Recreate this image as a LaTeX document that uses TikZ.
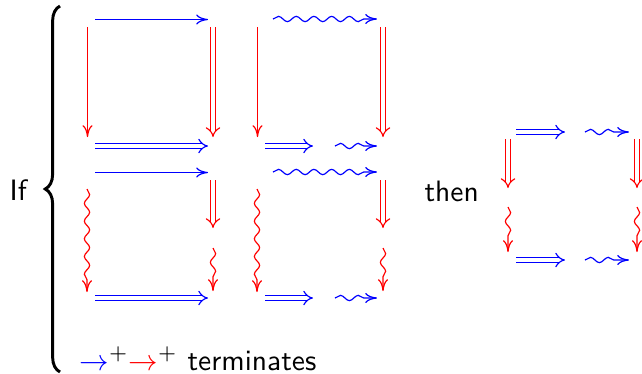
\documentclass[tikz,border=0pt]{standalone}
\usetikzlibrary{arrows.meta,decorations.pathmorphing,decorations.pathreplacing}
\begin{document}
\begin{tikzpicture}[x=0.339pt,y=-0.339pt,font=\sffamily,
  blu/.style={draw=blue,line width=0.4pt},
  rd/.style={draw=red,line width=0.4pt},
  sgl/.style={-{To[length=4pt,width=3.4pt]}},
  dbl/.style={double,double distance=1.3pt,-{Implies[length=3.6pt,width=4.2pt]}},
  squig/.style={-{To[length=4pt,width=3.4pt]},decorate,decoration={snake,amplitude=0.9pt,segment length=6pt,post length=4pt}},
  lbl/.style={inner sep=0pt,anchor=base west}]
\useasboundingbox (0,0) rectangle (642,373);
% brace
\coordinate (bb) at (60,372);
\coordinate (bt) at (60,6);
\draw[line width=1pt,decorate,decoration={brace,amplitude=5pt}] (bb) -- (bt);
\node[lbl] (if) at (9,200) {If};
\node[lbl] (then) at (424,201) {then};
% square A
\coordinate (a1s) at (95,19.5);  \coordinate (a1e) at (208,19.5);
\coordinate (a2s) at (87.5,27);  \coordinate (a2e) at (87.5,137);
\coordinate (a3s) at (213,27); \coordinate (a3e) at (213,137);
\coordinate (a4s) at (95,146); \coordinate (a4e) at (208,146);
\draw[blu,sgl] (a1s) -- (a1e);
\draw[rd,sgl] (a2s) -- (a2e);
\draw[rd,dbl] (a3s) -- (a3e);
\draw[blu,dbl] (a4s) -- (a4e);
% square B
\coordinate (b1s) at (273,19);  \coordinate (b1e) at (377,19);
\coordinate (b2s) at (257.5,27);  \coordinate (b2e) at (257.5,137);
\coordinate (b3s) at (383,27);  \coordinate (b3e) at (383,137);
\coordinate (b4s) at (265,146); \coordinate (b4e) at (313,146);
\coordinate (b5s) at (335,146); \coordinate (b5e) at (377,146);
\draw[blu,squig] (b1s) -- (b1e);
\draw[rd,sgl] (b2s) -- (b2e);
\draw[rd,dbl] (b3s) -- (b3e);
\draw[blu,dbl] (b4s) -- (b4e);
\draw[blu,squig] (b5s) -- (b5e);
% square C
\coordinate (c1s) at (95,172.5);  \coordinate (c1e) at (208,172.5);
\coordinate (c2s) at (87,189);  \coordinate (c2e) at (87,292);
\coordinate (c3s) at (213,180); \coordinate (c3e) at (213,228);
\coordinate (c4s) at (213,248); \coordinate (c4e) at (213,291);
\coordinate (c5s) at (95,298);  \coordinate (c5e) at (208,298);
\draw[blu,sgl] (c1s) -- (c1e);
\draw[rd,squig] (c2s) -- (c2e);
\draw[rd,dbl] (c3s) -- (c3e);
\draw[rd,squig] (c4s) -- (c4e);
\draw[blu,dbl] (c5s) -- (c5e);
% square D
\coordinate (d1s) at (273,172); \coordinate (d1e) at (377,172);
\coordinate (d2s) at (257,189); \coordinate (d2e) at (257,292);
\coordinate (d3s) at (383,180); \coordinate (d3e) at (383,228);
\coordinate (d4s) at (383,248); \coordinate (d4e) at (383,291);
\coordinate (d5s) at (265,298); \coordinate (d5e) at (313,298);
\coordinate (d6s) at (335,298); \coordinate (d6e) at (377,298);
\draw[blu,squig] (d1s) -- (d1e);
\draw[rd,squig] (d2s) -- (d2e);
\draw[rd,dbl] (d3s) -- (d3e);
\draw[rd,squig] (d4s) -- (d4e);
\draw[blu,dbl] (d5s) -- (d5e);
\draw[blu,squig] (d6s) -- (d6e);
% square E
\coordinate (e1s) at (516,132); \coordinate (e1e) at (565,132);
\coordinate (e2s) at (585,132); \coordinate (e2e) at (629,132);
\coordinate (e3s) at (508,139); \coordinate (e3e) at (508,188);
\coordinate (e4s) at (508,207); \coordinate (e4e) at (508,252);
\coordinate (e5s) at (637,139); \coordinate (e5e) at (637,188);
\coordinate (e6s) at (637,207); \coordinate (e6e) at (637,252);
\coordinate (e7s) at (516,260); \coordinate (e7e) at (565,260);
\coordinate (e8s) at (585,260); \coordinate (e8e) at (629,260);
\draw[blu,dbl] (e1s) -- (e1e);
\draw[blu,squig] (e2s) -- (e2e);
\draw[rd,dbl] (e3s) -- (e3e);
\draw[rd,squig] (e4s) -- (e4e);
\draw[rd,dbl] (e5s) -- (e5e);
\draw[rd,squig] (e6s) -- (e6e);
\draw[blu,dbl] (e7s) -- (e7e);
\draw[blu,squig] (e8s) -- (e8e);
% bottom text
\node[lbl] (term) at (79,370) {{\color{blue}$\to$}$^+${\color{red}$\to$}$^+$ terminates};
\end{tikzpicture}
\end{document}
